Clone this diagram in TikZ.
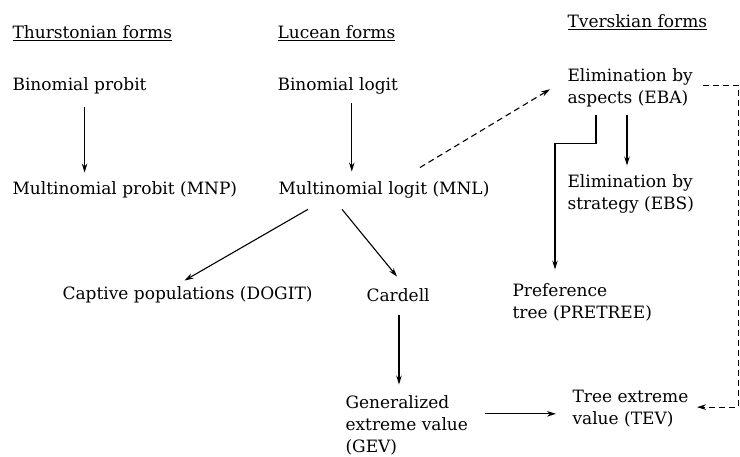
\documentclass[tikz,border=0pt]{standalone}
\usepackage{fontspec}
\setmainfont{DejaVu Serif}
\usetikzlibrary{arrows.meta, calc}

\begin{document}
\begin{tikzpicture}[x=1bp, y=-1bp, >={Stealth[length=9bp,width=5.5bp]}, line width=1.1bp,
  label/.style={anchor=base west, align=left, inner sep=0pt,
    font=\fontsize{17bp}{22bp}\selectfont},
  arr/.style={->},
  dasharr/.style={->, dash pattern=on 6bp off 4bp}]
  \useasboundingbox (0,0) rectangle (740,457);

  % column headings
  \node[label] (thur) at (12,39) {\underline{Thurstonian forms}};
  \node[label] (luce) at (277,39) {\underline{Lucean forms}};
  \node[label] (tver) at (567,28) {\underline{Tverskian forms}};

  % model forms (multi-line ones sit on their last baseline)
  \node[label] (bprobit) at (12,91) {Binomial probit};
  \node[label] (blogit) at (277,91) {Binomial logit};
  \node[label] (eba) at (567,104) {Elimination by\\aspects (EBA)};
  \node[label] (mnp) at (12,195) {Multinomial probit (MNP)};
  \node[label] (mnl) at (278,195) {Multinomial logit (MNL)};
  \node[label] (ebs) at (567,210) {Elimination by\\strategy (EBS)};
  \node[label] (dogit) at (62,300) {Captive populations (DOGIT)};
  \node[label] (cardell) at (366,302) {Cardell};
  \node[label] (pretree) at (512,319) {Preference\\tree (PRETREE)};
  \node[label] (gev) at (345,452) {Generalized\\extreme value\\(GEV)};
  \node[label] (tev) at (572,424) {Tree extreme\\value (TEV)};

  % start points below the source texts
  \coordinate (cardout) at ($(cardell.south west)+(33,12)$);
  \coordinate (ebsout) at ($(eba.south west)+(60,7)$);
  \coordinate (preout) at ($(eba.south west)+(29,7)$);

  % connectors
  \draw[arr, shorten <=12bp, shorten >=9bp] ([xshift=5bp]bprobit.south) -- ([xshift=5bp]bprobit.south |- mnp.north);
  \draw[arr, shorten <=8bp, shorten >=10bp] ([xshift=14bp]blogit.south) -- ([xshift=14bp]blogit.south |- mnl.north);
  \draw[arr] ($(mnl.south west)+(30,10)$) -- ($(dogit.north)+(-3,-6)$);
  \draw[arr] ($(mnl.south west)+(64,10)$) -- ($(cardell.north west)+(31,-12)$);
  \draw[arr, shorten >=10bp] (cardout) -- (cardout |- gev.north);
  \draw[arr, shorten <=16bp, shorten >=16bp] ([yshift=11bp]gev.east) -- ([yshift=11bp]gev.east -| tev.west);
  \draw[dasharr] ($(mnl.north east)+(-70,-14)$) -- ($(eba.west)+(-17,1)$);
  \draw[arr, shorten >=9bp] (ebsout) -- (ebsout |- ebs.north);
  \draw[arr] (preout) -- ++(0,28) -| ($(pretree.north west)+(43,-14)$);
  \draw[dasharr] ($(eba.east)+(10,-3)$) -- ++(35,0) |- ($(tev.east)+(8,-1)$);
\end{tikzpicture}
\end{document}
